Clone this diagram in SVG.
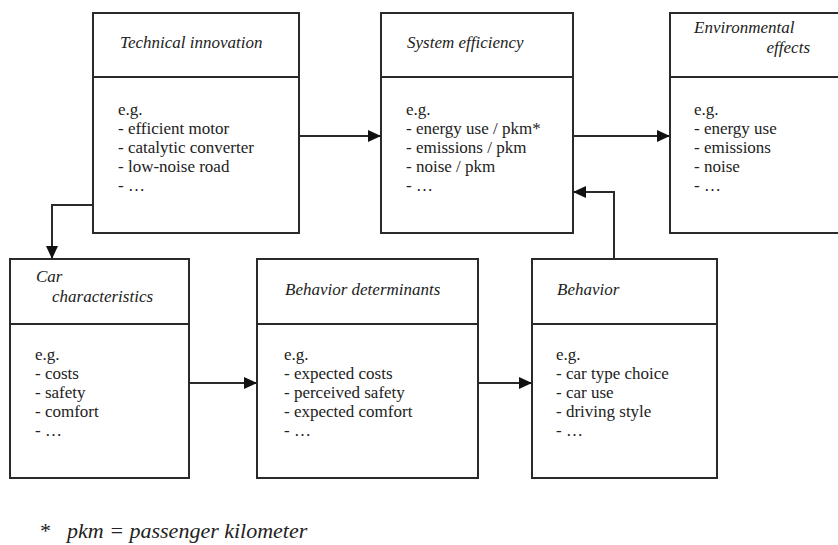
<svg xmlns="http://www.w3.org/2000/svg" width="838" height="545" viewBox="0 0 838 545">
<defs>
<style>
.box{fill:#fff;stroke:#2a2a2a;stroke-width:2}
.div{stroke:#2a2a2a;stroke-width:2}
text{font-family:'Liberation Serif',Tinos,'Times New Roman','DejaVu Serif',serif;font-size:17px;fill:#222}
.ti{font-style:italic}
.fn{font-size:22px;font-style:italic}
.c{fill:none;stroke:#2a2a2a;stroke-width:2}
</style>
<marker id="ah" markerWidth="14" markerHeight="12" refX="13" refY="6" orient="auto" markerUnits="userSpaceOnUse">
<path d="M0,0 L13,6 L0,12 Z" fill="#111"/>
</marker>
</defs>
<rect width="838" height="545" fill="#fff"/>

<g id="technical-innovation">
<rect class="box" x="93" y="13" width="206" height="220"/>
<line class="div" x1="93" y1="77" x2="299" y2="77"/>
<text class="ti" x="120" y="48">Technical innovation</text>
<text x="118" y="115">e.g.</text>
<text x="118" y="134">- efficient motor</text>
<text x="118" y="153">- catalytic converter</text>
<text x="118" y="172">- low-noise road</text>
<text x="118" y="191">- …</text>
</g>

<g id="system-efficiency">
<rect class="box" x="381" y="13" width="192" height="220"/>
<line class="div" x1="381" y1="77" x2="573" y2="77"/>
<text class="ti" x="407" y="48">System efficiency</text>
<text x="406" y="115">e.g.</text>
<text x="406" y="134">- energy use / pkm*</text>
<text x="406" y="153">- emissions / pkm</text>
<text x="406" y="172">- noise / pkm</text>
<text x="406" y="191">- …</text>
</g>

<g id="environmental-effects">
<rect class="box" x="670" y="13" width="180" height="220"/>
<line class="div" x1="670" y1="77" x2="850" y2="77"/>
<text class="ti" x="694" y="33">Environmental</text>
<text class="ti" x="810" y="53" text-anchor="end">effects</text>
<text x="694" y="115">e.g.</text>
<text x="694" y="134">- energy use</text>
<text x="694" y="153">- emissions</text>
<text x="694" y="172">- noise</text>
<text x="694" y="191">- …</text>
</g>

<g id="car-characteristics">
<rect class="box" x="10" y="259" width="179" height="219"/>
<line class="div" x1="10" y1="324" x2="189" y2="324"/>
<text class="ti" x="36" y="282">Car</text>
<text class="ti" x="52" y="302">characteristics</text>
<text x="35" y="360">e.g.</text>
<text x="35" y="379">- costs</text>
<text x="35" y="398">- safety</text>
<text x="35" y="417">- comfort</text>
<text x="35" y="436">- …</text>
</g>

<g id="behavior-determinants">
<rect class="box" x="257" y="259" width="221" height="219"/>
<line class="div" x1="257" y1="324" x2="478" y2="324"/>
<text class="ti" x="285" y="295">Behavior determinants</text>
<text x="284" y="360">e.g.</text>
<text x="284" y="379">- expected costs</text>
<text x="284" y="398">- perceived safety</text>
<text x="284" y="417">- expected comfort</text>
<text x="284" y="436">- …</text>
</g>

<g id="behavior">
<rect class="box" x="532" y="259" width="185" height="219"/>
<line class="div" x1="532" y1="324" x2="717" y2="324"/>
<text class="ti" x="557" y="295">Behavior</text>
<text x="556" y="360">e.g.</text>
<text x="556" y="379">- car type choice</text>
<text x="556" y="398">- car use</text>
<text x="556" y="417">- driving style</text>
<text x="556" y="436">- …</text>
</g>

<g id="connectors">
<line class="c" x1="299" y1="136" x2="381" y2="136" marker-end="url(#ah)"/>
<line class="c" x1="573" y1="136" x2="670" y2="136" marker-end="url(#ah)"/>
<polyline class="c" points="93,205 52,205 52,259" marker-end="url(#ah)"/>
<line class="c" x1="189" y1="383" x2="257" y2="383" marker-end="url(#ah)"/>
<line class="c" x1="478" y1="383" x2="532" y2="383" marker-end="url(#ah)"/>
<polyline class="c" points="614,259 614,192 573,192" marker-end="url(#ah)"/>
</g>

<g id="footnote">
<text class="fn" x="40" y="538" style="font-style:normal">*</text>
<text class="fn" x="67" y="538">pkm = passenger kilometer</text>
</g>
</svg>
